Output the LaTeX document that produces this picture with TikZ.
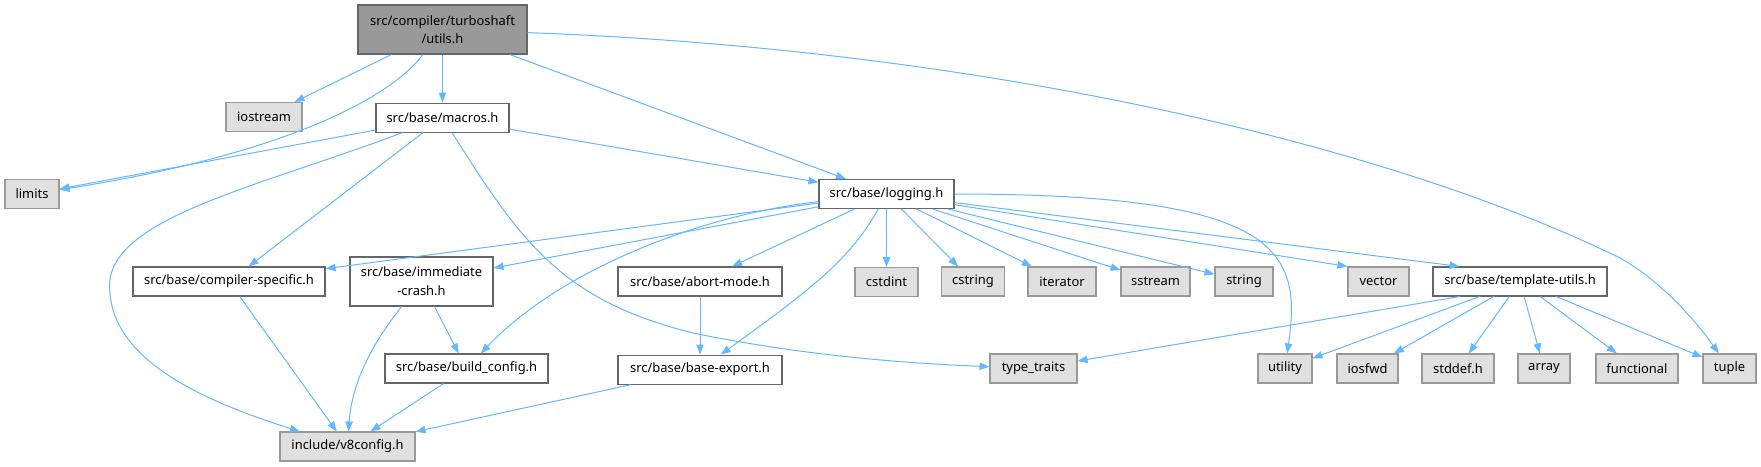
\documentclass[tikz,border=0pt]{standalone}
\usepackage{fontspec}
\setmainfont{Noto Sans}
\usetikzlibrary{arrows.meta,positioning}
\definecolor{edgeblue}{RGB}{99,184,255}
\definecolor{maingray}{RGB}{153,153,153}
\definecolor{sysgray}{RGB}{224,224,224}
\definecolor{darkframe}{RGB}{102,102,102}
\definecolor{lightframe}{RGB}{153,153,153}

\begin{document}
\begin{tikzpicture}[x=0.75pt, y=-0.75pt, every node/.style={font=\fontsize{9.7}{14}\selectfont, minimum height=21.75pt, inner sep=1pt, align=center},
    mainfile/.style={draw=darkframe, fill=maingray, line width=0.8pt},
    localfile/.style={draw=darkframe, fill=white, line width=0.8pt},
    sysfile/.style={draw=lightframe, fill=sysgray, line width=0.8pt},
    dep/.style={draw=edgeblue, line width=0.75pt, -{Triangle[length=7.5pt,width=5.5pt]}}]
        \useasboundingbox[fill=white] (0,0) rectangle (1761,467);
        \node[mainfile, minimum width=126.75pt, minimum height=36.75pt] (utils) at (442.5,29.5) {src/compiler/turboshaft\\/utils.h};
        \node[localfile, minimum width=99.75pt, below=36pt of utils] (macros) {src/base/macros.h};
        \node[sysfile, minimum width=57pt] (iostream) at (264,117) {iostream};
        \node[sysfile, minimum width=40.5pt] (limits) at (32,194) {limits};
        \node[localfile, minimum width=101.25pt] (logging) at (886.5,194) {src/base/logging.h};
        \node[localfile, minimum width=144pt] (compspec) at (229,281.5) {src/base/compiler-specific.h};
        \node[localfile, minimum width=107.25pt, minimum height=36.75pt] (immcrash) at (421.5,281.5) {src/base/immediate\\-crash.h};
        \node[localfile, minimum width=123pt] (abortmode) at (700,281.5) {src/base/abort-mode.h};
        \node[sysfile, minimum width=47.25pt, below=43.5pt of logging] (cstdint) {cstdint};
        \node[sysfile, minimum width=47.25pt] (cstring) at (973,281.5) {cstring};
        \node[sysfile, minimum width=51pt] (iterator) at (1062,281.5) {iterator};
        \node[sysfile, minimum width=51.75pt] (sstream) at (1155.5,281.5) {sstream};
        \node[sysfile, minimum width=43.5pt] (string) at (1244,281.5) {string};
        \node[sysfile, minimum width=45.75pt] (vector) at (1378.5,281.5) {vector};
        \node[localfile, minimum width=130.5pt] (tmplutils) at (1520,281.5) {src/base/template-utils.h};
        \node[localfile, minimum width=122.25pt] (buildcfg) at (466.5,368.5) {src/base/build\_config.h};
        \node[localfile, minimum width=123pt, below=43.5pt of abortmode] (baseexport) {src/base/base-export.h};
        \node[sysfile, minimum width=65.25pt] (typetraits) at (1033.5,368.5) {type\_traits};
        \node[sysfile, minimum width=40.5pt] (utility) at (1285,368.5) {utility};
        \node[sysfile, minimum width=45.75pt] (iosfwd) at (1367.5,368.5) {iosfwd};
        \node[sysfile, minimum width=54pt] (stddef) at (1458,368.5) {stddef.h};
        \node[sysfile, minimum width=39pt] (array) at (1544,368.5) {array};
        \node[sysfile, minimum width=61.5pt] (functional) at (1637,368.5) {functional};
        \node[sysfile, minimum width=39.75pt] (tuple) at (1729.5,368.5) {tuple};
        \node[sysfile, minimum width=101.25pt] (v8config) at (347.5,446.5) {include/v8config.h};
        \draw[dep] (utils) -- (iostream);
        \draw[dep] (utils) .. controls (380,110) and (250,160) .. (limits);
        \draw[dep] (utils) -- (macros);
        \draw[dep] (utils) -- (logging);
        \draw[dep] (utils) .. controls (1000,50) and (1400,150) .. (1620,258) .. controls (1660,280) and (1695,320) .. (tuple);
        \draw[dep] (macros) -- (limits);
        \draw[dep] (macros) .. controls (250,190) and (100,220) .. (110,293) .. controls (115,360) and (200,400) .. (v8config);
        \draw[dep] (macros) -- (compspec);
        \draw[dep] (macros) -- (logging);
        \draw[dep] (macros) .. controls (520,240) and (560,300) .. (693,333) .. controls (800,355) and (900,363) .. (typetraits);
        \draw[dep] (logging) -- (compspec);
        \draw[dep] (logging) -- (immcrash);
        \draw[dep] (logging) .. controls (700,215) and (560,270) .. (buildcfg);
        \draw[dep] (logging) -- (abortmode);
        \draw[dep] (logging) .. controls (850,260) and (810,290) .. (baseexport);
        \draw[dep] (logging) -- (cstdint);
        \draw[dep] (logging) -- (cstring);
        \draw[dep] (logging) -- (iterator);
        \draw[dep] (logging) -- (sstream);
        \draw[dep] (logging) -- (string);
        \draw[dep] (logging) .. controls (1280,194) and (1302,250) .. (utility);
        \draw[dep] (logging) -- (vector.north west);
        \draw[dep] (logging) -- (tmplutils.166);
        \draw[dep] (compspec) -- (v8config);
        \draw[dep] (immcrash) -- (buildcfg);
        \draw[dep] (immcrash) .. controls (375,340) and (352,380) .. (v8config);
        \draw[dep] (abortmode) -- (baseexport);
        \draw[dep] (buildcfg) -- (v8config);
        \draw[dep] (baseexport) -- (v8config);
        \draw[dep] (tmplutils.194) -- (typetraits);
        \draw[dep] (tmplutils) -- (utility);
        \draw[dep] (tmplutils) -- (iosfwd);
        \draw[dep] (tmplutils) -- (stddef);
        \draw[dep] (tmplutils) -- (array);
        \draw[dep] (tmplutils) -- (functional);
        \draw[dep] (tmplutils) -- (tuple);
      \end{tikzpicture}
\end{document}
